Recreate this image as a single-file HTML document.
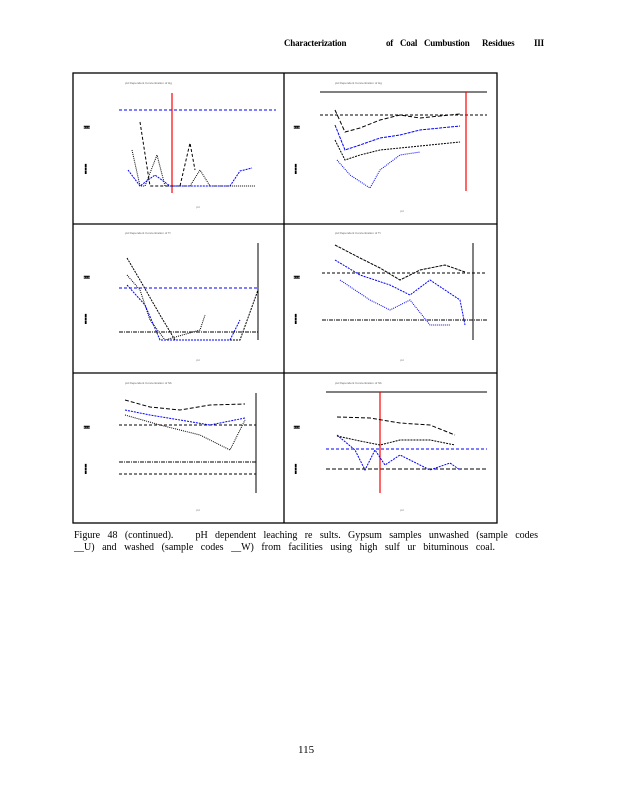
<!DOCTYPE html>
<html><head><meta charset="utf-8"><style>
body{margin:0;background:#fff;width:618px;height:800px;overflow:hidden;font-family:"Liberation Serif",serif}
svg{position:absolute;left:0;top:0}
.t{position:absolute;font-size:10px;color:#000;white-space:nowrap}
.h{position:absolute;top:38px;font-size:9px;font-weight:bold;white-space:nowrap;letter-spacing:-0.2px}
</style></head><body>
<span class="h" style="left:284px">Characterization</span>
<span class="h" style="left:386px">of</span>
<span class="h" style="left:400px">Coal</span>
<span class="h" style="left:424px">Cumbustion</span>
<span class="h" style="left:482px">Residues</span>
<span class="h" style="left:534px">III</span>
<div class="t" style="left:74px;top:530px;width:464px;text-align:justify;text-align-last:justify;line-height:12px">Figure 48 (continued). &nbsp;&nbsp;pH dependent leaching re sults. Gypsum samples unwashed (sample codes</div>
<div class="t" style="left:74px;top:542px;width:421px;text-align:justify;text-align-last:justify;line-height:12px">__U) and washed (sample codes __W) from facilities using high sulf ur bituminous coal.</div>
<div class="t" style="left:298px;top:744px;font-size:11px">115</div>
<svg width="618" height="800" viewBox="0 0 618 800">
<g fill="none" stroke="#000" stroke-width="1.3">
<rect x="73" y="73" width="424" height="450"/>
<line x1="284" y1="73" x2="284" y2="523"/>
<line x1="73" y1="224" x2="497" y2="224"/>
<line x1="73" y1="373" x2="497" y2="373"/>
</g>
<g font-size="3" fill="#666" font-family="Liberation Sans">
<text x="125" y="84">pH Dependent Concentration of Hg</text>
<text x="335" y="84">pH Dependent Concentration of Hg</text>
<text x="125" y="234">pH Dependent Concentration of Tl</text>
<text x="335" y="234">pH Dependent Concentration of Tl</text>
<text x="125" y="384">pH Dependent Concentration of Sb</text>
<text x="335" y="384">pH Dependent Concentration of Sb</text>
</g>
<g font-size="9" font-weight="bold" fill="#000">
<text x="83" y="130">≖</text><text x="83" y="172">┇</text>
<text x="293" y="130">≖</text><text x="293" y="172">┇</text>
<text x="83" y="280">≖</text><text x="83" y="322">┇</text>
<text x="293" y="280">≖</text><text x="293" y="322">┇</text>
<text x="83" y="430">≖</text><text x="83" y="472">┇</text>
<text x="293" y="430">≖</text><text x="293" y="472">┇</text>
</g>
<line x1="119" y1="110" x2="276" y2="110" stroke="#00f" stroke-dasharray="3,2"/>
<line x1="172" y1="93" x2="172" y2="193" stroke="#f00" stroke-width="1.2"/>
<polyline points="132,150 140,186 145,186 157,155 165,186 190,186 200,170 210,186 255,186" fill="none" stroke="#000" stroke-dasharray="1,1"/>
<polyline points="140,122 150,186 180,186 190,143 195,170" fill="none" stroke="#000" stroke-dasharray="3,2"/>
<polyline points="128,170 140,186 155,175 170,186 230,186 240,171 252,168" fill="none" stroke="#00f" stroke-dasharray="2,1"/>
<polyline points="320,92 487,92 M320,92 320,191 487,191" fill="none" stroke="#000"/>
<line x1="320" y1="115" x2="487" y2="115" stroke="#000" stroke-dasharray="3,2"/>
<line x1="466" y1="92" x2="466" y2="191" stroke="#f00" stroke-width="1.2"/>
<polyline points="335,110 345,132 360,128 380,120 400,115 420,118 440,116 460,114" fill="none" stroke="#000" stroke-dasharray="4,2"/>
<polyline points="335,125 345,150 360,145 380,138 400,135 420,130 440,128 460,126" fill="none" stroke="#00f" stroke-dasharray="3,1"/>
<polyline points="335,140 345,160 360,155 380,150 400,148 420,146 440,144 460,142" fill="none" stroke="#000" stroke-dasharray="2,1"/>
<polyline points="337,160 350,175 370,188 380,170 400,155 420,152" fill="none" stroke="#00f" stroke-dasharray="1,1"/>
<line x1="119" y1="288" x2="258" y2="288" stroke="#00f" stroke-dasharray="3,2"/>
<line x1="119" y1="332" x2="258" y2="332" stroke="#000" stroke-dasharray="4,1,1,1"/>
<line x1="258" y1="243" x2="258" y2="340" stroke="#000"/>
<polyline points="127,258 140,280 160,315 175,340 240,340 258,290" fill="none" stroke="#000" stroke-dasharray="2,1"/>
<polyline points="127,275 140,290 150,320 165,340 200,330 205,315" fill="none" stroke="#000" stroke-dasharray="1,1"/>
<polyline points="127,285 145,305 160,340 230,340 240,320" fill="none" stroke="#00f" stroke-dasharray="2,1"/>
<line x1="322" y1="273" x2="487" y2="273" stroke="#000" stroke-dasharray="3,2"/>
<line x1="322" y1="320" x2="487" y2="320" stroke="#000" stroke-dasharray="4,1,1,1"/>
<line x1="473" y1="243" x2="473" y2="340" stroke="#000"/>
<polyline points="335,245 360,258 380,268 400,280 420,270 445,265 465,272" fill="none" stroke="#000" stroke-dasharray="3,1"/>
<polyline points="335,260 360,275 390,285 410,295 430,280 460,300 465,325" fill="none" stroke="#00f" stroke-dasharray="2,1"/>
<polyline points="340,280 370,300 390,310 410,300 430,325 450,325" fill="none" stroke="#00f" stroke-dasharray="1,1"/>
<line x1="119" y1="425" x2="256" y2="425" stroke="#000" stroke-dasharray="3,2"/>
<line x1="119" y1="462" x2="256" y2="462" stroke="#000" stroke-dasharray="4,1,1,1"/>
<line x1="119" y1="474" x2="256" y2="474" stroke="#000" stroke-dasharray="3,2"/>
<line x1="256" y1="393" x2="256" y2="493" stroke="#000"/>
<polyline points="125,400 150,407 180,410 210,405 245,404" fill="none" stroke="#000" stroke-dasharray="4,2"/>
<polyline points="125,410 150,415 180,420 210,425 245,418" fill="none" stroke="#00f" stroke-dasharray="2,1"/>
<polyline points="125,415 160,425 200,435 230,450 245,420" fill="none" stroke="#000" stroke-dasharray="1,1"/>
<polyline points="326,392 487,392 M326,392 326,493" fill="none" stroke="#000"/>
<line x1="326" y1="449" x2="487" y2="449" stroke="#00f" stroke-dasharray="3,2"/>
<line x1="326" y1="469" x2="487" y2="469" stroke="#000" stroke-dasharray="4,2"/>
<line x1="380" y1="392" x2="380" y2="493" stroke="#f00" stroke-width="1.2"/>
<polyline points="337,417 370,418 400,423 430,425 455,435" fill="none" stroke="#000" stroke-dasharray="4,2"/>
<polyline points="337,436 360,441 380,445 400,440 430,440 455,445" fill="none" stroke="#000" stroke-dasharray="2,1"/>
<polyline points="337,435 355,450 365,470 375,450 385,465 400,455 430,470 450,463 460,470" fill="none" stroke="#00f" stroke-dasharray="2,1"/>
<g font-size="3" fill="#888" font-family="Liberation Sans">
<text x="196" y="208">pH</text><text x="400" y="212">pH</text><text x="196" y="361">pH</text><text x="400" y="361">pH</text><text x="196" y="511">pH</text><text x="400" y="511">pH</text>
</g>
</svg>
</body></html>
